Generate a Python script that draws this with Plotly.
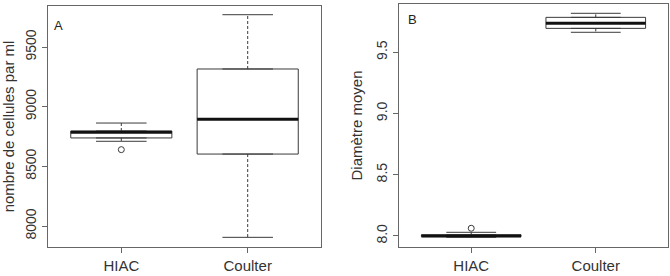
import plotly.graph_objects as go

categories = ["HIAC", "Coulter"]
positions = [1, 2]

# Panel A : nombre de cellules par ml
a_low = [8710, 7905]
a_q1 = [8738, 8603]
a_med = [8785, 8894]
a_q3 = [8796, 9316]
a_high = [8863, 9771]
a_out_x = [1]
a_out_y = [8640]

# Panel B : Diamètre moyen
b_low = [7.99, 9.663]
b_q1 = [7.995, 9.695]
b_med = [8.0, 9.736]
b_q3 = [8.01, 9.785]
b_high = [8.03, 9.818]
b_out_x = [1]
b_out_y = [8.063]

a_ticks = [8000, 8500, 9000, 9500]
b_ticks = [8.0, 8.5, 9.0, 9.5]

W, H = 670, 276
LINE = "#3a3a3a"
FONT = "Liberation Sans, Arial, sans-serif"
BW = 0.8

fig = go.Figure()


def add_panel(xa, ya, low, q1, med, q3, high, ox, oy):
    fig.add_trace(go.Box(
        x=positions, q1=q1, median=med, q3=q3, lowerfence=q1, upperfence=q3,
        width=BW, fillcolor="white", line=dict(color=LINE, width=1),
        boxpoints=False, xaxis=xa, yaxis=ya, showlegend=False, hoverinfo="skip"))
    wx, wy, sx, sy, mx, my = [], [], [], [], [], []
    for p, lo, a, m, b, hi in zip(positions, low, q1, med, q3, high):
        wx += [p, p, None, p, p, None]
        wy += [b, hi, None, a, lo, None]
        sx += [p - BW / 4, p + BW / 4, None, p - BW / 4, p + BW / 4, None]
        sy += [hi, hi, None, lo, lo, None]
        mx += [p - BW / 2, p + BW / 2, None]
        my += [m, m, None]
    fig.add_trace(go.Scatter(x=wx, y=wy, mode="lines", line=dict(color=LINE, width=1, dash="3px,2px"),
                             xaxis=xa, yaxis=ya, showlegend=False, hoverinfo="skip"))
    fig.add_trace(go.Scatter(x=sx, y=sy, mode="lines", line=dict(color=LINE, width=1),
                             xaxis=xa, yaxis=ya, showlegend=False, hoverinfo="skip"))
    fig.add_trace(go.Scatter(x=mx, y=my, mode="lines", line=dict(color="#111", width=3),
                             xaxis=xa, yaxis=ya, showlegend=False, hoverinfo="skip"))
    fig.add_trace(go.Scatter(x=ox, y=oy, mode="markers",
                             marker=dict(symbol="circle-open", size=6, color=LINE, line=dict(width=1)),
                             xaxis=xa, yaxis=ya, showlegend=False, hoverinfo="skip"))


add_panel("x", "y", a_low, a_q1, a_med, a_q3, a_high, a_out_x, a_out_y)
add_panel("x2", "y2", b_low, b_q1, b_med, b_q3, b_high, b_out_x, b_out_y)

axis_common = dict(showline=True, mirror=True, linecolor="#666", linewidth=1,
                   showgrid=False, zeroline=False, ticks="outside", ticklen=5,
                   tickcolor="#666")
yfont = dict(family=FONT, size=14, color="#333")
xfont = dict(family=FONT, size=15, color="#333")

fig.update_layout(
    width=W, height=H, margin=dict(l=0, r=0, t=0, b=0),
    plot_bgcolor="white", paper_bgcolor="white",
    font=dict(family=FONT, color="#333"),
    xaxis=dict(domain=[48 / W, 321 / W], range=[0.42, 2.58], tickvals=positions,
               ticktext=categories, anchor="y", tickfont=xfont, **axis_common),
    yaxis=dict(domain=[29 / H, 1 - 6 / H], range=[7824, 9844], tickvals=a_ticks,
               tickangle=-90, anchor="x", tickfont=yfont,
               title=dict(text="nombre de cellules par ml", font=dict(family=FONT, size=15, color="#333"),
                          standoff=8),
               **axis_common),
    xaxis2=dict(domain=[399 / W, 668 / W], range=[0.42, 2.58], tickvals=positions,
                ticktext=categories, anchor="y2", tickfont=xfont, **axis_common),
    yaxis2=dict(domain=[29 / H, 1 - 4 / H], range=[7.910, 9.894], tickvals=b_ticks,
                tickformat=".1f", tickangle=-90, anchor="x2", tickfont=yfont,
                title=dict(text="Diamètre moyen", font=dict(family=FONT, size=15, color="#333"),
                           standoff=8),
                **axis_common),
    annotations=[
        dict(text="A", x=0.015, y=0.96, xref="x domain", yref="y domain", showarrow=False,
             xanchor="left", yanchor="top", font=dict(family=FONT, size=13, color="#222")),
        dict(text="B", x=0.025, y=0.975, xref="x2 domain", yref="y2 domain", showarrow=False,
             xanchor="left", yanchor="top", font=dict(family=FONT, size=13, color="#222")),
    ],
)

fig.write_html("out.html")
